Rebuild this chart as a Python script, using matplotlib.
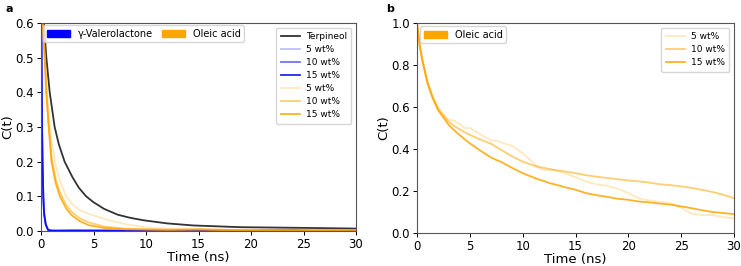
"""Rotational autocorrelation C(t) for terpineol blends (panels a and b)."""

import matplotlib as mpl
import matplotlib.pyplot as plt
from matplotlib.patches import Patch

mpl.rcParams.update({"font.family": "DejaVu Sans", "axes.unicode_minus": False})

# ---- panel a -------------------------------------------------------------
time_terp = [0, 0.12, 0.25, 0.51, 0.83, 1.3, 1.7, 2.25, 3, 3.6, 4.3, 5, 6, 7.3, 8.5,
             9.75, 12, 14.5, 19, 25, 30]
c_terp = [1.0, 0.7, 0.61, 0.5, 0.4, 0.3, 0.25, 0.2, 0.155, 0.125, 0.1, 0.083, 0.064,
          0.047, 0.038, 0.031, 0.022, 0.016, 0.011, 0.009, 0.007]

time_gvl = [0, 0.02, 0.06, 0.1, 0.15, 0.22, 0.3, 0.45, 0.67, 1.0, 1.5, 3, 6, 10,
            15, 20, 24, 26, 30]
c_gvl_5 = [1.0, 0.72, 0.52, 0.32, 0.21, 0.11, 0.055, 0.022, 0.004, 0.002, 0.001,
           0.001, 0.002, 0.0, 0.001, 0.0, 0.002, 0.0, 0.0]
c_gvl_10 = [1.0, 0.7, 0.5, 0.3, 0.2, 0.1, 0.05, 0.02, 0.003, 0.001, 0.001,
            0.002, 0.001, 0.001, 0.0, 0.001, 0.001, 0.0, 0.0]
c_gvl_15 = [1.0, 0.68, 0.48, 0.29, 0.19, 0.095, 0.047, 0.018, 0.003, 0.001, 0.001,
            0.001, 0.001, 0.0, 0.001, 0.0, 0.003, 0.0, 0.0]

time_oa = [0, 0.1, 0.2, 0.35, 0.5, 0.73, 1.0, 1.4, 1.8, 2.4, 2.9, 3.6, 4.5, 6, 8, 10,
           12, 15, 18, 20, 25, 30]
c_oa_5 = [1.0, 0.7, 0.6, 0.52, 0.44, 0.34, 0.26, 0.19, 0.145, 0.1, 0.08, 0.062, 0.05,
          0.035, 0.02, 0.01, 0.007, 0.006, 0.004, 0.003, 0.004, 0.003]
c_oa_10 = [1.0, 0.69, 0.59, 0.51, 0.41, 0.31, 0.215, 0.15, 0.112, 0.075, 0.056, 0.038,
           0.025, 0.013, 0.007, 0.005, 0.004, 0.005, 0.003, 0.002, 0.003, 0.002]
c_oa_15 = [1.0, 0.68, 0.58, 0.5, 0.4, 0.3, 0.2, 0.138, 0.1, 0.065, 0.046, 0.03, 0.017,
           0.009, 0.005, 0.004, 0.003, 0.004, 0.002, 0.002, 0.002, 0.003]

# ---- panel b (oleic acid only) --------------------------------------------
time_b = [0, 0.25, 0.5, 1, 1.5, 2, 2.5, 3, 3.5, 4, 4.5, 5, 6, 7, 7.5, 8, 9, 10, 11, 11.5, 12,
          12.5, 13, 14, 15, 16, 17, 18, 19, 20, 21, 22, 23, 24, 25, 26, 27, 28, 29, 30]
cb_5 = [1.0, 0.9, 0.83, 0.72, 0.65, 0.6, 0.565, 0.54, 0.535, 0.52, 0.5, 0.5, 0.47, 0.44,
        0.44, 0.43, 0.415, 0.38, 0.335, 0.31, 0.3, 0.3, 0.3, 0.285, 0.265, 0.245, 0.232,
        0.225, 0.21, 0.19, 0.165, 0.155, 0.148, 0.142, 0.12, 0.092, 0.085, 0.085, 0.075,
        0.07]
cb_10 = [1.0, 0.9, 0.83, 0.72, 0.645, 0.59, 0.56, 0.53, 0.51, 0.495, 0.48, 0.467, 0.445,
         0.425, 0.41, 0.395, 0.365, 0.34, 0.322, 0.315, 0.31, 0.305, 0.3, 0.293, 0.285,
         0.275, 0.268, 0.262, 0.256, 0.25, 0.246, 0.24, 0.232, 0.228, 0.222, 0.215, 0.205,
         0.195, 0.182, 0.166]
cb_15 = [1.0, 0.89, 0.82, 0.71, 0.64, 0.585, 0.55, 0.515, 0.49, 0.468, 0.447, 0.427, 0.392,
         0.36, 0.348, 0.338, 0.31, 0.285, 0.265, 0.255, 0.248, 0.238, 0.232, 0.218, 0.206,
         0.19, 0.18, 0.172, 0.163, 0.158, 0.15, 0.146, 0.14, 0.135, 0.127, 0.118, 0.108,
         0.1, 0.095, 0.09]

LABELS = ["5 wt%", "10 wt%", "15 wt%"]
ALPHAS = [0.25, 0.55, 0.85]
BLUE = "#0000ff"
ORANGE = "#ffa500"
LW = 1.3


def style_axes(ax, ylim, yticks):
    ax.set_xlim(0, 30)
    ax.set_ylim(*ylim)
    ax.set_yticks(yticks)
    ax.set_xticks([0, 5, 10, 15, 20, 25, 30])
    ax.tick_params(labelsize=8.5, length=3, width=0.7, pad=2)
    ax.set_xlabel("Time (ns)", fontsize=9.5, labelpad=0)
    ax.set_ylabel("C(t)", fontsize=9.5, labelpad=1)
    for spine in ax.spines.values():
        spine.set_color("#555555")
        spine.set_linewidth(0.8)


def line_legend(ax):
    leg = ax.legend(loc="upper right", fontsize=6.5, handlelength=2.1,
                    labelspacing=0.45, borderpad=0.5, handletextpad=0.7)
    ax.add_artist(leg)


fig = plt.figure(figsize=(7.41, 2.66), dpi=100)
ax_a = fig.add_axes([41 / 741, 1 - 231 / 266, 315 / 741, 208 / 266])
ax_b = fig.add_axes([417 / 741, 1 - 233 / 266, 317 / 741, 210 / 266])

ax_a.plot(time_terp, c_terp, color="#333333", lw=LW, label="Terpineol")
for ys, a, lab in zip([c_gvl_5, c_gvl_10, c_gvl_15], ALPHAS, LABELS):
    ax_a.plot(time_gvl, ys, color=BLUE, alpha=a, lw=LW, label=lab)
for ys, a, lab in zip([c_oa_5, c_oa_10, c_oa_15], ALPHAS, LABELS):
    ax_a.plot(time_oa, ys, color=ORANGE, alpha=a, lw=LW, label=lab)
style_axes(ax_a, (0, 0.6), [0.0, 0.1, 0.2, 0.3, 0.4, 0.5, 0.6])
line_legend(ax_a)
ax_a.legend(handles=[Patch(color=BLUE, label="γ-Valerolactone"),
                     Patch(color=ORANGE, label="Oleic acid")],
            loc="upper left", ncol=2, fontsize=7, handlelength=2.4,
            columnspacing=0.9, borderpad=0.35, borderaxespad=0.25)

for ys, a, lab in zip([cb_5, cb_10, cb_15], ALPHAS, LABELS):
    ax_b.plot(time_b, ys, color=ORANGE, alpha=a, lw=LW, label=lab)
style_axes(ax_b, (0, 1.0), [0.0, 0.2, 0.4, 0.6, 0.8, 1.0])
line_legend(ax_b)
ax_b.legend(handles=[Patch(color=ORANGE, label="Oleic acid")], loc="upper left",
            fontsize=7, handlelength=2.4, borderpad=0.35, borderaxespad=0.35)

fig.text(5 / 741, 1 - 9 / 266, "a", fontsize=8, fontweight="bold", va="center")
fig.text(386 / 741, 1 - 9 / 266, "b", fontsize=8, fontweight="bold", va="center")

fig.savefig("out.png", dpi=100)
